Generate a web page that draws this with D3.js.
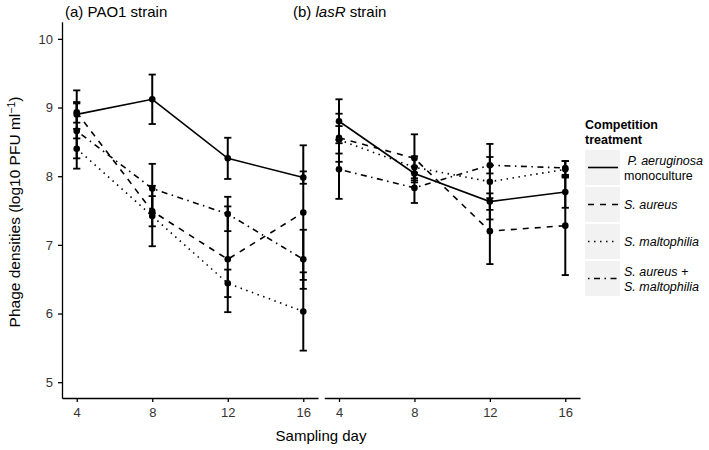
<!DOCTYPE html>
<html><head><meta charset="utf-8">
<script src="https://cdn.jsdelivr.net/npm/d3@7"></script>
<style>body{margin:0;background:#fff}svg{display:block}text{font-family:"Liberation Sans",Arial,sans-serif}</style>
</head><body>
<svg id="c" width="709" height="450"></svg>
<script>
const days = [4, 8, 12, 16];
const treatments = ["P. aeruginosa monoculture", "S. aureus", "S. maltophilia", "S. aureus + S. maltophilia"];
const panels = ["PAO1", "lasR"];
// means [treatment][day]
const paoMean = [
  [8.90, 9.12, 8.26, 7.98],
  [8.93, 7.49, 6.79, 7.47],
  [8.40, 7.42, 6.44, 6.03],
  [8.66, 7.82, 7.45, 6.79]
];
const paoErr = [
  [0.35, 0.36, 0.30, 0.09],
  [0.15, 0.22, 0.77, 0.98],
  [0.29, 0.44, 0.20, 0.57],
  [0.40, 0.36, 0.25, 0.43]
];
const lasMean = [
  [8.80, 8.04, 7.63, 7.77],
  [8.56, 8.26, 7.20, 7.28],
  [8.53, 8.13, 7.92, 8.10],
  [8.10, 7.83, 8.16, 8.12]
];
const lasErr = [
  [0.32, 0.10, 0.12, 0.23],
  [0.35, 0.35, 0.48, 0.72],
  [0.20, 0.16, 0.55, 0.12],
  [0.43, 0.22, 0.12, 0.10]
];
const yTicks = [5, 6, 7, 8, 9, 10];
const dashes = [null, "6,6", "1.5,4.5", "1.5,4.5,6,4.5"];

const svg = d3.select("#c");
const y = d3.scaleLinear().domain([4.77, 10.25]).range([398, 21.7]);
const panelX = [[62, 318], [324.3, 580]];
const means = [paoMean, lasMean], errs = [paoErr, lasErr];

panels.forEach((p, pi) => {
  const x = d3.scaleLinear().domain([3.22, 16.78]).range(panelX[pi]);
  const g = svg.append("g");
  const xa = g.append("g").attr("transform", "translate(0,398)")
    .call(d3.axisBottom(x).tickValues(days).tickFormat(d3.format("d")).tickSize(4).tickSizeOuter(0).tickPadding(6));
  xa.select(".domain").attr("stroke", "#000").attr("stroke-width", 1.3);
  xa.selectAll(".tick line").attr("stroke", "#000").attr("stroke-width", 1.3);
  xa.selectAll("text").attr("font-size", 13).attr("fill", "#333");
  if (pi === 0) {
    const ya = g.append("g").attr("transform", "translate(62,0)")
      .call(d3.axisLeft(y).tickValues(yTicks).tickFormat(d3.format("d")).tickSize(4).tickSizeOuter(0).tickPadding(5));
    ya.select(".domain").attr("stroke", "#000").attr("stroke-width", 1.3);
    ya.selectAll(".tick line").attr("stroke", "#000").attr("stroke-width", 1.3);
    ya.selectAll("text").attr("font-size", 13).attr("fill", "#333");
  }
  treatments.forEach((t, ti) => {
    const pts = days.map((d, di) => ({d, m: means[pi][ti][di], e: errs[pi][ti][di]}));
    g.append("path").datum(pts)
      .attr("d", d3.line().x(q => x(q.d)).y(q => y(q.m)))
      .attr("fill", "none").attr("stroke", "#000").attr("stroke-width", 1.6)
      .attr("stroke-dasharray", dashes[ti]);
    pts.forEach(q => {
      const cx = x(q.d);
      g.append("line").attr("x1", cx).attr("x2", cx).attr("y1", y(q.m - q.e)).attr("y2", y(q.m + q.e))
        .attr("stroke", "#000").attr("stroke-width", 2);
      [q.m - q.e, q.m + q.e].forEach(v => g.append("line").attr("x1", cx - 3.6).attr("x2", cx + 3.6)
        .attr("y1", y(v)).attr("y2", y(v)).attr("stroke", "#000").attr("stroke-width", 1.8));
      g.append("circle").attr("cx", cx).attr("cy", y(q.m)).attr("r", 3.3).attr("fill", "#000");
    });
  });
});

// panel titles
svg.append("text").attr("x", 65).attr("y", 17).attr("font-size", 15).text("(a) PAO1 strain");
const t2 = svg.append("text").attr("x", 293).attr("y", 17).attr("font-size", 15);
t2.append("tspan").text("(b)  ");
t2.append("tspan").attr("font-style", "italic").text("lasR");
t2.append("tspan").text(" strain");

// axis titles
svg.append("text").attr("x", 321).attr("y", 441).attr("text-anchor", "middle").attr("font-size", 15).text("Sampling day");
const yt = svg.append("text").attr("transform", "translate(20,212) rotate(-90)").attr("text-anchor", "middle").attr("font-size", 15.5);
yt.append("tspan").text("Phage densities (log10 PFU ml");
yt.append("tspan").attr("dy", -5).attr("font-size", 10.5).text("−1");
yt.append("tspan").attr("dy", 5).text(")");

// legend
const lg = svg.append("g");
lg.append("text").attr("x", 585).attr("y", 129).attr("font-size", 12.5).attr("font-weight", "bold").text("Competition");
lg.append("text").attr("x", 585).attr("y", 144).attr("font-size", 12.5).attr("font-weight", "bold").text("treatment");
const labels = [
  [[" P. aeruginosa", true], ["monoculture", false]],
  [["S. aureus", true]],
  [["S. maltophilia", true]],
  [["S. aureus +", true], ["S. maltophilia", true]]
];
treatments.forEach((t, i) => {
  const top = 150 + i * 37;
  lg.append("rect").attr("x", 585).attr("y", top).attr("width", 35).attr("height", 35).attr("fill", "#f2f2f2");
  lg.append("line").attr("x1", 588).attr("x2", 618).attr("y1", top + 17.5).attr("y2", top + 17.5)
    .attr("stroke", "#000").attr("stroke-width", 1.6).attr("stroke-dasharray", dashes[i]);
  const ls = labels[i];
  ls.forEach((l, k) => {
    const yy = ls.length === 1 ? top + 22 : top + 15 + k * 15;
    lg.append("text").attr("x", 624).attr("y", yy).attr("font-size", 12.5)
      .attr("font-style", l[1] ? "italic" : "normal").style("white-space", "pre").text(l[0]);
  });
});
</script>
</body></html>
